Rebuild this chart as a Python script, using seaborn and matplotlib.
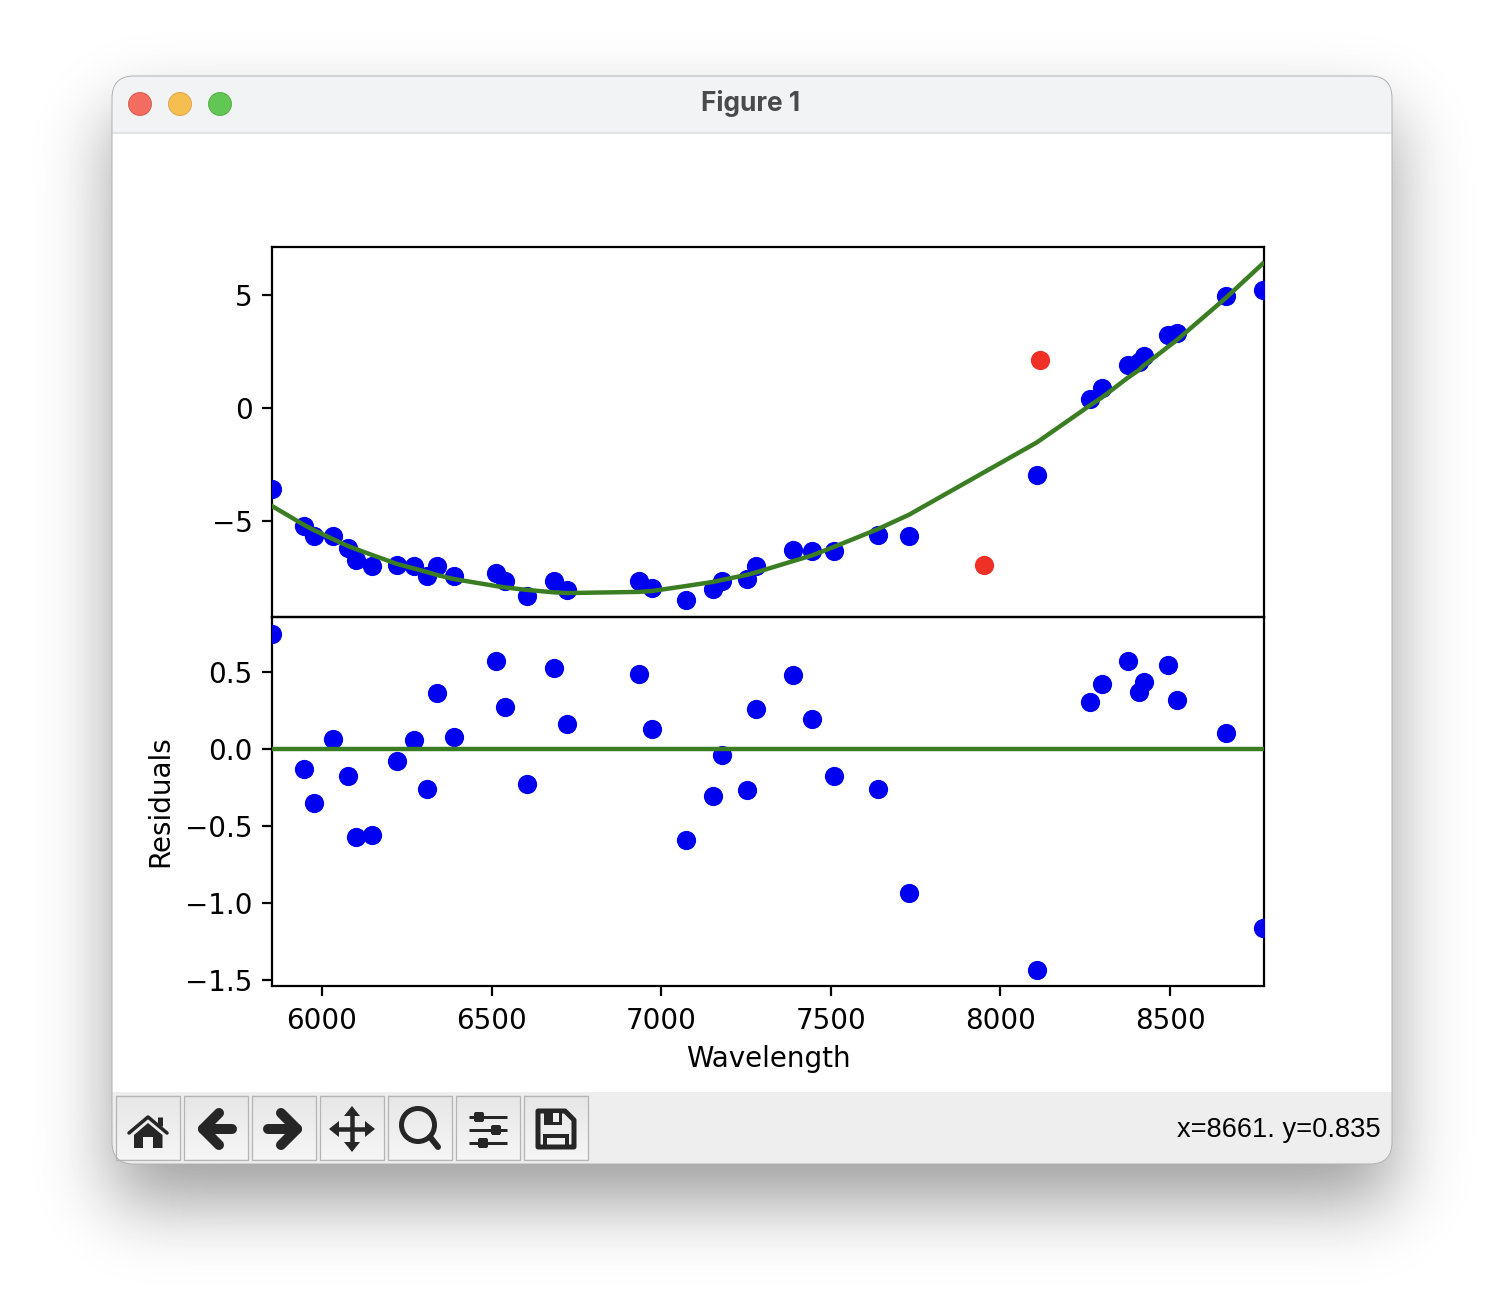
import math
import numpy as np
import pandas as pd
import matplotlib
matplotlib.use('Agg')
import matplotlib.pyplot as plt
import seaborn as sns
from matplotlib.patches import FancyBboxPatch, Circle, Polygon, Rectangle

W, H = 1504, 1312

# measured points
wavelength = [5853, 5948, 5976, 6032, 6077, 6100, 6147, 6221, 6271, 6310, 6339, 6389, 6513,
              6539, 6604, 6684, 6722, 6934, 6973, 7073, 7152, 7179, 7252, 7279, 7388, 7444,
              7509, 7639, 7730, 8107, 8263, 8299, 8375, 8408, 8422, 8493, 8520, 8664, 8773]
flux = [-3.58, -5.22, -5.66, -5.66, -6.19, -6.73, -6.99, -6.95, -6.99, -7.43, -6.99, -7.43, -7.30,
        -7.65, -8.32, -7.65, -8.05, -7.65, -7.96, -8.50, -8.01, -7.65, -7.57, -6.99, -6.28, -6.33,
        -6.33, -5.62, -5.66, -2.96, 0.40, 0.88, 1.90, 2.04, 2.30, 3.23, 3.32, 4.96, 5.22]
fit = [-4.34, -5.18, -5.40, -5.80, -6.11, -6.24, -6.50, -6.90, -7.10, -7.26, -7.39, -7.57, -7.88,
       -7.94, -8.05, -8.16, -8.19, -8.14, -8.10, -7.88, -7.70, -7.61, -7.39, -7.28, -6.78, -6.53,
       -6.15, -5.36, -4.73, -1.53, 0.10, 0.46, 1.33, 1.67, 1.87, 2.69, 3.00, 4.86, 6.38]
residuals = [0.745, -0.13, -0.35, 0.065, -0.175, -0.57, -0.56, -0.08, 0.06, -0.26, 0.36, 0.08, 0.57,
             0.27, -0.23, 0.525, 0.16, 0.485, 0.13, -0.59, -0.305, -0.04, -0.265, 0.26, 0.48, 0.195,
             -0.175, -0.26, -0.935, -1.435, 0.305, 0.42, 0.57, 0.37, 0.435, 0.545, 0.32, 0.105, -1.16]
zero_line = [0.0] * len(wavelength)
outlier_wavelength = [7951, 8116]
outlier_flux = [-6.95, 2.12]

x_ticks = [6000, 6500, 7000, 7500, 8000, 8500]
top_ticks = [-5, 0, 5]
bottom_ticks = [-1.5, -1.0, -0.5, 0.0, 0.5]

BLUE = '#0000f0'
RED = '#ee3124'
GREEN = '#3a7d22'
DARK = '#262626'

df = pd.DataFrame({'wavelength': wavelength, 'flux': flux, 'fit': fit,
                   'residuals': residuals, 'zero': zero_line})
df_out = pd.DataFrame({'wavelength': outlier_wavelength, 'flux': outlier_flux})

fig = plt.figure(figsize=(W / 200, H / 200), dpi=200, facecolor='white')

# window chrome, drawn in pixel coordinates
chrome = fig.add_axes([0, 0, 1, 1])
chrome.set_axis_off()


def gauss_box(v, a, b, sigma):
    erf = np.vectorize(math.erf)
    k = math.sqrt(2) * sigma
    return 0.5 * (erf((v - a) / k) - erf((v - b) / k))


sx = gauss_box(np.arange(W), 112, 1392, 36)
sy = gauss_box(np.arange(H), 114, 1202, 36)
shadow = 1 - 0.38 * np.outer(sy, sx)
chrome.imshow(shadow, cmap='gray', vmin=0, vmax=1, extent=(0, W, H, 0), aspect='auto', zorder=0)

window = FancyBboxPatch((112, 76), 1280, 1088, boxstyle='round,pad=0,rounding_size=22',
                        fc='white', ec='none', zorder=1)
chrome.add_patch(window)
titlebar = Rectangle((112, 76), 1280, 56, fc='#f2f3f5', ec='none', zorder=2)
chrome.add_patch(titlebar)
titlebar.set_clip_path(window)
chrome.plot([112, 1392], [132.5, 132.5], color='#dedede', lw=0.6, zorder=3)
toolbar = Rectangle((112, 1092), 1280, 72, fc='#eeeeee', ec='none', zorder=2)
chrome.add_patch(toolbar)
toolbar.set_clip_path(window)
chrome.add_patch(FancyBboxPatch((112, 76), 1280, 1088, boxstyle='round,pad=0,rounding_size=22',
                                fc='none', ec='#b0b0b0', lw=0.35, zorder=7))

for cx, fc, ec in [(140, '#f26d60', '#d9534a'), (180, '#f6bd4f', '#d9a13c'), (220, '#62c654', '#4fa944')]:
    chrome.add_patch(Circle((cx, 104), 11.5, fc=fc, ec=ec, lw=0.3, zorder=3))
chrome.text(751, 103.5, 'Figure 1', family='Inter', weight='bold', fontsize=9.45, color='#4a4a4a',
            ha='center', va='center', zorder=3)
chrome.text(1381, 1130, 'x=8661. y=0.835', family='Liberation Sans', fontsize=9.8, color='black',
            ha='right', va='center', zorder=3)

grad = np.linspace(0.90, 0.96, 32).reshape(-1, 1)
for bx in [116, 184, 252, 320, 388, 456, 524]:
    chrome.imshow(grad, cmap='gray', vmin=0, vmax=1, extent=(bx, bx + 63.5, 1159.5, 1096), aspect='auto', zorder=3)
    chrome.add_patch(Rectangle((bx, 1096), 63.5, 63.5, fc='none', ec='#b4b4b4', lw=0.45, zorder=4))


def stroke(xs, ys, px=9, cap='round'):
    chrome.plot(xs, ys, color=DARK, lw=px * 72 / 200, solid_capstyle=cap, solid_joinstyle='round', zorder=5)


def fill(points):
    chrome.add_patch(Polygon(points, fc=DARK, ec='none', zorder=5))


# home
stroke([129, 148, 167], [1133, 1117, 1133], 3.5)
stroke([160, 160], [1117, 1126], 5, 'butt')
fill([(134, 1135), (148, 1123), (162.5, 1135), (162.5, 1148), (153, 1148), (153, 1137),
      (143, 1137), (143, 1148), (134, 1148)])
# back / forward
stroke([232, 203], [1129, 1129], 10)
stroke([219, 203, 219], [1113, 1129, 1145], 10)
stroke([268, 297], [1129, 1129], 10)
stroke([281, 297, 281], [1113, 1129, 1145], 10)
# move
stroke([335, 369], [1129, 1129], 4.5, 'butt')
stroke([352, 352], [1112, 1146], 4.5, 'butt')
fill([(329, 1129), (339, 1121), (339, 1137)])
fill([(375, 1129), (365, 1121), (365, 1137)])
fill([(352, 1106), (344, 1116), (360, 1116)])
fill([(352, 1152), (344, 1142), (360, 1142)])
# zoom
chrome.add_patch(Circle((418, 1125), 16.5, fc='none', ec=DARK, lw=5 * 72 / 200, zorder=5))
stroke([430, 438], [1137, 1147], 6)
# sliders
for ly, kx in [(1117, 479), (1130, 496), (1143, 483)]:
    stroke([469, 507], [ly, ly], 3, 'butt')
    chrome.add_patch(FancyBboxPatch((kx - 4, ly - 4), 8, 8, boxstyle='round,pad=1,rounding_size=2',
                                    fc=DARK, ec='none', zorder=6))
# save
chrome.add_patch(Polygon([(538, 1111), (565, 1111), (574, 1120), (574, 1147), (538, 1147)],
                         closed=True, fc='none', ec=DARK, lw=5 * 72 / 200, joinstyle='round', zorder=5))
chrome.add_patch(Rectangle((544, 1111), 18, 14, fc=DARK, ec='none', zorder=5))
chrome.add_patch(Rectangle((553, 1113), 6, 9, fc='#f0f0f0', ec='none', zorder=6))
chrome.add_patch(Rectangle((545, 1136), 22, 11, fc='none', ec=DARK, lw=4 * 72 / 200, zorder=5))

chrome.set_xlim(0, W)
chrome.set_ylim(H, 0)

# chart axes
left, right = 272 / W, 1264 / W
y_top, y_mid, y_bot = 1 - 247 / H, 1 - 617 / H, 1 - 986 / H
ax_top = fig.add_axes([left, y_mid, right - left, y_top - y_mid], facecolor='none')
ax_res = fig.add_axes([left, y_bot, right - left, y_mid - y_bot], facecolor='none', sharex=ax_top)

sns.scatterplot(data=df, x='wavelength', y='flux', color=BLUE, s=48, linewidth=0, ax=ax_top, zorder=3)
sns.scatterplot(data=df_out, x='wavelength', y='flux', color=RED, s=48, linewidth=0, ax=ax_top, zorder=3)
sns.lineplot(data=df, x='wavelength', y='fit', color=GREEN, lw=1.6, sort=False, estimator=None,
             ax=ax_top, zorder=4)

sns.scatterplot(data=df, x='wavelength', y='residuals', color=BLUE, s=48, linewidth=0, ax=ax_res, zorder=3)
sns.lineplot(data=df, x='wavelength', y='zero', color=GREEN, lw=1.6, sort=False, estimator=None,
             ax=ax_res, zorder=4)

ax_top.set_xlim(5853, 8777)
ax_top.set_ylim(-9.25, 7.12)
ax_res.set_ylim(-1.537, 0.856)
ax_top.set_yticks(top_ticks)
ax_res.set_yticks(bottom_ticks)
ax_res.set_xticks(x_ticks)
ax_top.tick_params(axis='x', bottom=False, labelbottom=False)
ax_res.tick_params(axis='x', pad=4)
ax_top.set_xlabel('')
ax_top.set_ylabel('')
ax_res.set_xlabel('Wavelength', labelpad=3.7)
ax_res.set_ylabel('Residuals')

fig.savefig('out.png', dpi=200)
